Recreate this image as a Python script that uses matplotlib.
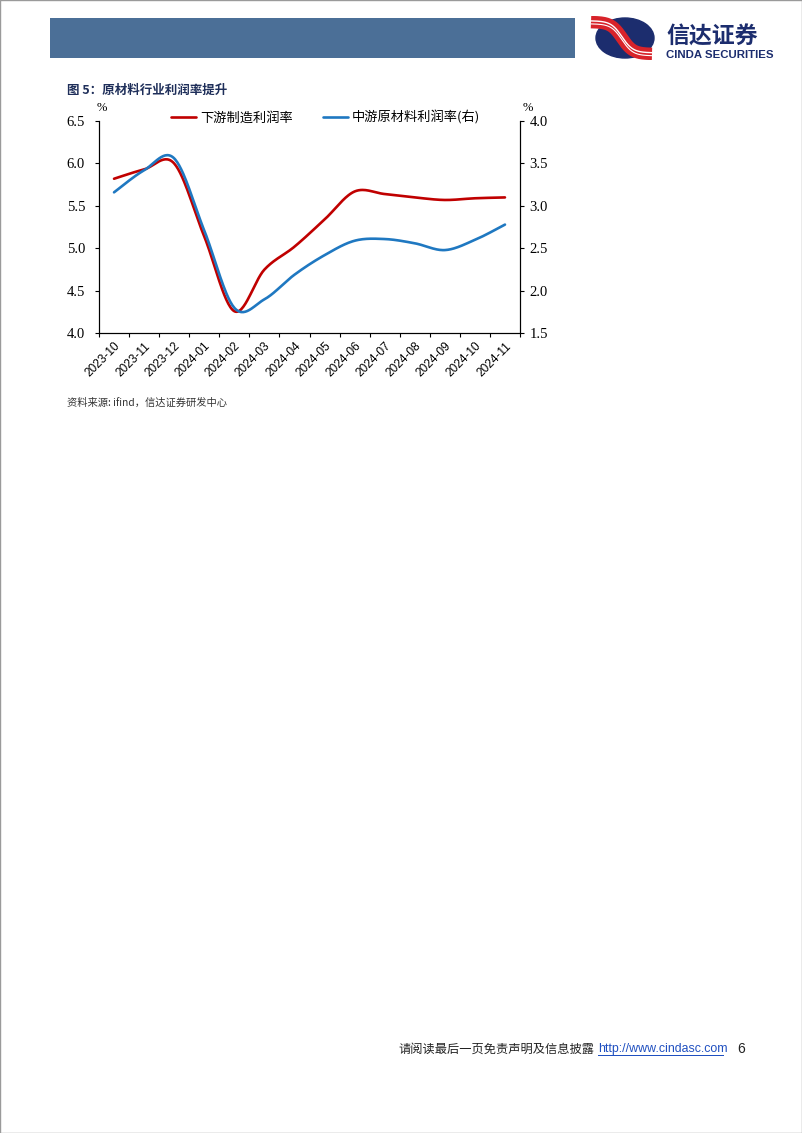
import numpy as np
import matplotlib
matplotlib.use("Agg")
import matplotlib.pyplot as plt
from matplotlib.patches import Rectangle, Ellipse

plt.rcParams['font.family'] = ['Noto Sans CJK SC', 'DejaVu Sans']

# ---------------- data ----------------
months = ["2023-10", "2023-11", "2023-12", "2024-01", "2024-02", "2024-03", "2024-04",
          "2024-05", "2024-06", "2024-07", "2024-08", "2024-09", "2024-10", "2024-11"]
downstream = [5.82, 5.93, 6.00, 5.14, 4.26, 4.75, 5.02, 5.34, 5.67, 5.64, 5.60, 5.57, 5.59, 5.60]
midstream = [3.16, 3.42, 3.56, 2.71, 1.80, 1.90, 2.19, 2.42, 2.59, 2.61, 2.56, 2.48, 2.60, 2.78]
left_ticks = [4.0, 4.5, 5.0, 5.5, 6.0, 6.5]
right_ticks = [1.5, 2.0, 2.5, 3.0, 3.5, 4.0]
label_down = "下游制造利润率"
label_mid = "中游原材料利润率(右)"
title = "图 5：原材料行业利润率提升"
source = "资料来源: ifind，信达证券研发中心"

RED = "#c00000"
BLUE = "#1f78c1"


def smooth(xs, ys, n=30):
    """Excel-like smoothed line (Catmull-Rom Bezier through the data points)."""
    pts = np.column_stack([np.asarray(xs, float), np.asarray(ys, float)])
    m = len(pts)
    ox, oy = [], []
    for i in range(m - 1):
        p1, p2 = pts[i], pts[i + 1]
        p0 = pts[i - 1] if i > 0 else p1
        p3 = pts[i + 2] if i + 2 < m else p2
        c1 = p1 + (p2 - p0) / 6.0
        c2 = p2 - (p3 - p1) / 6.0
        t = np.linspace(0, 1, n, endpoint=(i == m - 2))[:, None]
        b = (1 - t) ** 3 * p1 + 3 * (1 - t) ** 2 * t * c1 + 3 * (1 - t) * t ** 2 * c2 + t ** 3 * p2
        ox.extend(b[:, 0]); oy.extend(b[:, 1])
    return np.array(ox), np.array(oy)


W, H = 802, 1133
fig = plt.figure(figsize=(W / 100, H / 100), dpi=100)

def fx(x):
    return x / W

def fy(y):
    return 1 - y / H

# page border
fig.patches.append(Rectangle((0, 0), 1, 1, transform=fig.transFigure, fill=False,
                             edgecolor="#9a9a9a", linewidth=1.0))
# header band
fig.patches.append(Rectangle((fx(50), fy(58)), fx(575 - 50), 40 / H, transform=fig.transFigure,
                             facecolor="#4b6f97", edgecolor="none"))
# logo
logo_ax = fig.add_axes([fx(588), fy(60), fx(68), 44 / H])
logo_ax.set_xlim(-34, 34); logo_ax.set_ylim(-22, 22)
logo_ax.axis('off')
logo_ax.add_patch(Ellipse((3, 0), 58, 40, color="#1c2d6e"))
t = np.linspace(-31, 30, 200)
band = -16 * np.tanh(t / 11.0)
logo_ax.plot(t, band, color="#d8232a", lw=9, solid_capstyle='butt')
logo_ax.plot(t, band + 1.2, color="white", lw=1.0, solid_capstyle='butt')
logo_ax.plot(t, band - 1.8, color="white", lw=0.8, solid_capstyle='butt')

fig.text(fx(666), fy(44), "信达证券", fontsize=16.5, fontweight='bold', color="#1c2d6e",
         va='baseline', ha='left')
fig.text(fx(666), fy(49.5), "CINDA SECURITIES", fontsize=8.2, fontweight='bold', color="#1c2d6e",
         va='top', ha='left', family=['Liberation Sans'])

# title
fig.text(fx(67), fy(90), title, fontsize=9, fontweight='bold', color="#1f2f5a",
         va='center', ha='left')

# ---------------- chart ----------------
ax = fig.add_axes([fx(99), fy(333.3), fx(520 - 99), (333.3 - 121) / H])
ax2 = ax.twinx()

x = np.arange(len(months))
sx, sy = smooth(x, downstream)
ax.plot(sx, sy, color=RED, lw=1.9, solid_capstyle='round', label=label_down)
sx2, sy2 = smooth(x, midstream)
ax2.plot(sx2, sy2, color=BLUE, lw=1.9, solid_capstyle='round', label=label_mid)

ax.set_xlim(-0.5, len(months) - 0.5)
ax.set_ylim(4.0, 6.5)
ax2.set_ylim(1.5, 4.0)
ax.set_yticks(left_ticks)
ax.set_yticklabels([f"{v:.1f}" for v in left_ticks], family=['Liberation Serif'], fontsize=10.5)
ax2.set_yticks(right_ticks)
ax2.set_yticklabels([f"{v:.1f}" for v in right_ticks], family=['Liberation Serif'], fontsize=10.5)

ax.set_xticks(np.arange(-0.5, len(months)), labels=[""] * (len(months) + 1))
ax.set_xticks(x, minor=True)
ax.set_xticklabels(months, minor=True, rotation=45, ha='right', rotation_mode='anchor',
                   family=['Liberation Sans'], fontsize=8.6)
ax.tick_params(axis='x', which='minor', length=0, pad=5)
ax.tick_params(axis='x', which='major', length=3, direction='out', width=0.8)
ax.tick_params(axis='y', length=3, direction='out', width=0.8, pad=7)
ax2.tick_params(axis='y', length=3, direction='out', width=0.8, pad=4)

for a in (ax, ax2):
    a.spines['top'].set_visible(False)
    for s in ('left', 'right', 'bottom'):
        a.spines[s].set_linewidth(0.8)

# % unit labels
fig.text(fx(102), fy(108), "%", fontsize=9, family=['Liberation Serif'], ha='center', va='center')
fig.text(fx(528), fy(108), "%", fontsize=9, family=['Liberation Serif'], ha='center', va='center')

# legend
h1, l1 = ax.get_legend_handles_labels()
h2, l2 = ax2.get_legend_handles_labels()
leg = ax.legend(h1 + h2, l1 + l2, loc='upper left', bbox_to_anchor=(0.158, 1.075), ncol=2,
                frameon=False, fontsize=9.5, handlelength=1.9, handletextpad=0.3,
                columnspacing=2.3, borderaxespad=0)

# source
fig.text(fx(67), fy(403), source, fontsize=7.4, style='italic', color="#333333",
         va='center', ha='left')

# footer
fig.text(fx(398), fy(1049), "请阅读最后一页免责声明及信息披露", fontsize=8.8, color="#222222",
         va='center', ha='left')
fig.text(fx(598), fy(1049), "http://www.cindasc.com", fontsize=8.9, color="#1f4fc0",
         va='center', ha='left', family=['Liberation Sans'])
fig.patches.append(Rectangle((fx(598), fy(1056)), fx(126), 0.8 / H, transform=fig.transFigure,
                             facecolor="#1f4fc0", edgecolor='none'))
fig.text(fx(737), fy(1049), "6", fontsize=10, color="#222222", va='center', ha='left',
         family=['Liberation Sans'])

fig.savefig("out.png", dpi=100)
